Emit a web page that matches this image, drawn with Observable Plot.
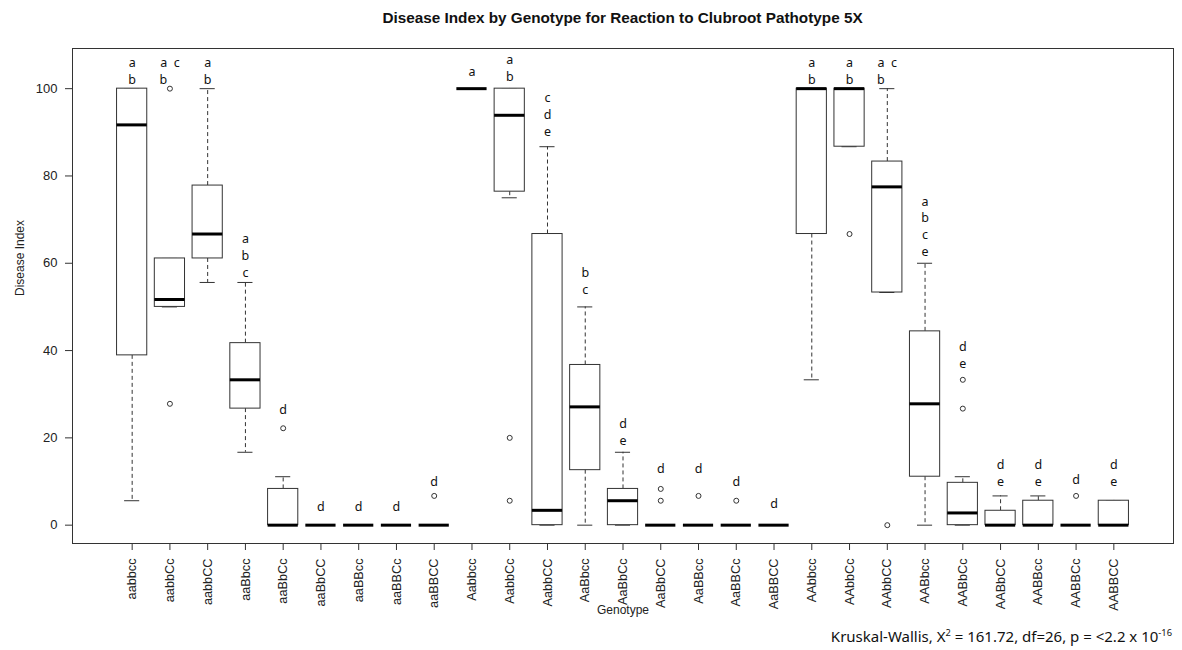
<!DOCTYPE html>
<html>
<head>
<meta charset="utf-8">
<script src="https://cdn.jsdelivr.net/npm/d3@7"></script>
<script src="https://cdn.jsdelivr.net/npm/@observablehq/plot@0.6"></script>
<style>
  body { margin: 0; background: #fff; width: 1182px; height: 650px; position: relative; overflow: hidden; }
  #title { position: absolute; left: 72px; width: 1101px; top: 8px; text-align: center;
           font: bold 15.3px "Liberation Sans", Arial, sans-serif; line-height: 20px; color: #111; }
  #chart { position: absolute; left: 0; top: 36px; }
  #caption { position: absolute; right: 10px; top: 626px; font: 15px "Noto Sans", sans-serif;
             line-height: 20px; color: #111; white-space: nowrap; }
  #caption sup { font-size: 0.62em; line-height: 0; vertical-align: 0.65em; }
</style>
</head>
<body>
<div id="title">Disease Index by Genotype for Reaction to Clubroot Pathotype 5X</div>
<div id="chart"></div>
<div id="caption">Kruskal-Wallis, X<sup>2</sup> = 161.72, df=26, p = &lt;2.2 x 10<sup>-16</sup></div>
<script>
const genotypes = ["aabbcc","aabbCc","aabbCC","aaBbcc","aaBbCc","aaBbCC","aaBBcc","aaBBCc","aaBBCC",
                   "Aabbcc","AabbCc","AabbCC","AaBbcc","AaBbCc","AaBbCC","AaBBcc","AaBBCc","AaBBCC",
                   "AAbbcc","AAbbCc","AAbbCC","AABbcc","AABbCc","AABbCC","AABBcc","AABBCc","AABBCC"];
const whiskerLow  = [5.6, 50, 55.6, 16.7, 0, 0, 0, 0, 0, 100, 75.0, 0, 0, 0, 0, 0, 0, 0, 33.3, 86.7, 53.3, 0, 0, 0, 0, 0, 0];
const quartile1   = [38.9, 50, 61.1, 26.7, 0, 0, 0, 0, 0, 100, 76.4, 0, 12.6, 0, 0, 0, 0, 0, 66.7, 86.7, 53.3, 11.1, 0, 0, 0, 0, 0];
const medians     = [91.7, 51.7, 66.7, 33.3, 0, 0, 0, 0, 0, 100, 93.9, 3.4, 27.1, 5.6, 0, 0, 0, 0, 100, 100, 77.5, 27.8, 2.8, 0, 0, 0, 0];
const quartile3   = [100, 61.1, 77.8, 41.7, 8.3, 0, 0, 0, 0, 100, 100, 66.7, 36.7, 8.3, 0, 0, 0, 0, 100, 100, 83.3, 44.4, 9.7, 3.3, 5.6, 0, 5.6];
const whiskerHigh = [100, 61.1, 100, 55.6, 11.1, 0, 0, 0, 0, 100, 100, 86.7, 50, 16.7, 0, 0, 0, 0, 100, 100, 100, 60, 11.1, 6.7, 6.7, 0, 5.6];
const outlierGenotype = ["aabbCc","aabbCc","aaBbCc","aaBBCC","AabbCc","AabbCc","AaBbCC","AaBbCC",
                         "AaBBcc","AaBBCc","AAbbCc","AAbbCC","AABbCc","AABbCc","AABBCc"];
const outlierValue = [100, 27.8, 22.2, 6.7, 20.0, 5.6, 8.3, 5.6, 6.7, 5.6, 66.7, 0, 33.3, 26.7, 6.7];
const NB = "\u00a0";
const letters = ["a\nb", "a"+NB+NB+"c\nb"+NB+NB+NB+NB, "a\nb", "a\nb\nc", "d", "d", "d", "d", "d",
                 "a", "a\nb", "c\nd\ne", "b\nc", "d\ne", "d", "d", "d", "d",
                 "a\nb", "a\nb", "a"+NB+NB+"c\nb"+NB+NB+NB+NB, "a\nb\nc\ne", "d\ne", "d\ne", "d\ne", "d", "d\ne"];
const letterY = [104.2, 104.2, 104.2, 62.0, 26.7, 4.4, 4.4, 4.4, 10.1,
                 104.2, 105.0, 94.3, 56.1, 21.6, 13.2, 13.2, 10.1, 5.2,
                 104.2, 104.2, 104.2, 68.7, 39.2, 12.1, 12.1, 10.7, 12.1];
const yTicks = [0, 20, 40, 60, 80, 100];

const boxes = genotypes.map((g, i) => ({
  g, pos: i + 1, lo: whiskerLow[i], q1: quartile1[i], med: medians[i], q3: quartile3[i],
  hi: whiskerHigh[i], letters: letters[i], ly: letterY[i]
}));
const posOf = new Map(genotypes.map((g, i) => [g, i + 1]));
const outliers = outlierValue.map((v, i) => ({ pos: posOf.get(outlierGenotype[i]), v }));

const halfBox = 0.4, halfCap = 0.2;
const ink = "#333";

const chart = Plot.plot({
  width: 1182, height: 590,
  marginTop: 12, marginBottom: 83, marginLeft: 72, marginRight: 9,
  style: { fontFamily: '"Liberation Sans", Arial, sans-serif', fontSize: "13px", color: "#222", background: "#fff", overflow: "visible" },
  x: { domain: [-0.58, 28.58] },
  y: { domain: [-4.2, 109.2] },
  marks: [
    Plot.frame({ stroke: ink }),
    Plot.axisY({ ticks: yTicks, tickSize: 7, tickPadding: 8, label: null, fontSize: 13, stroke: ink }),
    Plot.axisX({ ticks: d3.range(1, genotypes.length + 1), tickFormat: i => genotypes[i - 1], tickRotate: -90,
                 tickSize: 7, tickPadding: 8, label: null, fontSize: 12.7, stroke: ink,
                 textAnchor: "end", lineAnchor: "middle" }),
    Plot.ruleX(boxes, { x: "pos", y1: "q3", y2: "hi", stroke: ink, strokeDasharray: "4,3" }),
    Plot.ruleX(boxes, { x: "pos", y1: "q1", y2: "lo", stroke: ink, strokeDasharray: "4,3" }),
    Plot.ruleY(boxes, { y: "hi", x1: d => d.pos - halfCap, x2: d => d.pos + halfCap, stroke: ink }),
    Plot.ruleY(boxes, { y: "lo", x1: d => d.pos - halfCap, x2: d => d.pos + halfCap, stroke: ink }),
    Plot.rect(boxes, { x1: d => d.pos - halfBox, x2: d => d.pos + halfBox, y1: "q1", y2: "q3", fill: "white", stroke: ink }),
    Plot.ruleY(boxes, { y: "med", x1: d => d.pos - halfBox, x2: d => d.pos + halfBox, stroke: "#000", strokeWidth: 3 }),
    Plot.dot(outliers, { x: "pos", y: "v", r: 2.5, stroke: ink, fill: "white", strokeWidth: 1 }),
    Plot.text(boxes, { x: "pos", y: "ly", text: "letters", fontFamily: '"Noto Sans", sans-serif', fontSize: 12.5,
                       lineHeight: 1.34, lineAnchor: "middle", fill: "#111" }),
    Plot.text(["Disease Index"], { frameAnchor: "left", dx: -52, rotate: -90, fontSize: 12, fill: "#222" }),
    Plot.text(["Genotype"], { frameAnchor: "bottom", dy: 70, fontSize: 12, fill: "#222" })
  ]
});
document.getElementById("chart").appendChild(chart);
</script>
</body>
</html>
